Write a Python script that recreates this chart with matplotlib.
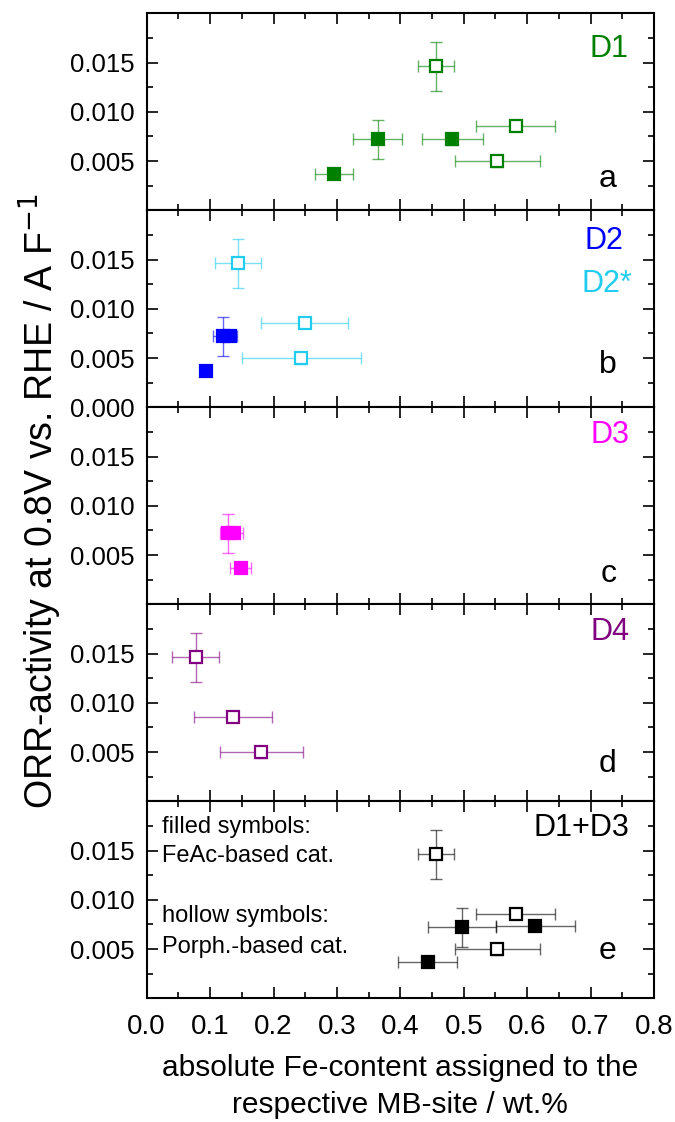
import matplotlib.pyplot as plt
import numpy as np
from matplotlib.ticker import MultipleLocator

plt.rcParams['font.family'] = ['Liberation Sans', 'DejaVu Sans']

# D1 (FeAc filled / porphyrin hollow)
d1_fill_x = [0.296, 0.364, 0.482]
d1_fill_y = [0.0037, 0.0072, 0.0072]
d1_fill_xerr = [0.030, 0.039, 0.048]
d1_fill_yerr = [0.0003, 0.0020, 0.0006]
d1_holl_x = [0.456, 0.582, 0.553]
d1_holl_y = [0.0146, 0.0086, 0.0050]
d1_holl_xerr = [0.028, 0.062, 0.067]
d1_holl_yerr = [0.0025, 0.0003, 0.0006]

# D2 filled, D2* hollow
d2_fill_x = [0.094, 0.121, 0.132]
d2_fill_y = [0.0037, 0.0072, 0.0072]
d2_fill_xerr = [0.008, 0.017, 0.010]
d2_fill_yerr = [0.0003, 0.0020, 0.0003]
d2s_holl_x = [0.144, 0.249, 0.244]
d2s_holl_y = [0.0146, 0.0086, 0.0050]
d2s_holl_xerr = [0.037, 0.069, 0.094]
d2s_holl_yerr = [0.0025, 0.0003, 0.0006]

# D3 filled
d3_fill_x = [0.148, 0.128, 0.137]
d3_fill_y = [0.0037, 0.0072, 0.0072]
d3_fill_xerr = [0.017, 0.012, 0.015]
d3_fill_yerr = [0.0003, 0.0020, 0.0003]

# D4 hollow
d4_holl_x = [0.077, 0.136, 0.181]
d4_holl_y = [0.0146, 0.0086, 0.0050]
d4_holl_xerr = [0.037, 0.062, 0.065]
d4_holl_yerr = [0.0025, 0.0003, 0.0006]

# D1+D3 filled
d13_fill_x = [0.443, 0.497, 0.613]
d13_fill_y = [0.0037, 0.0072, 0.0073]
d13_fill_xerr = [0.046, 0.054, 0.062]
d13_fill_yerr = [0.0003, 0.0020, 0.0003]

green = '#008000'
blue = '#0000FF'
cyan = '#22CCEE'
magenta = '#FF00FF'
purple = '#800080'


def pts(ax, x, y, xerr, yerr, color, filled):
    ax.errorbar(x, y, xerr=xerr, yerr=yerr, fmt='none', ecolor=color,
                elinewidth=1.0, capsize=4.5, capthick=1.0, alpha=0.6, zorder=2)
    ax.plot(x, y, 's', ms=9, mec=color, mew=1.6,
            mfc=color if filled else 'white', zorder=3)


fig = plt.figure(figsize=(6.75, 11.22), dpi=100)
left, width = 0.2173, 0.7516
top, bottom = 0.98815, 0.11025
h = (top - bottom) / 5

axes = []
for i in range(5):
    ax = fig.add_axes([left, top - (i + 1) * h, width, h])
    ax.set_xlim(0, 0.8)
    ax.set_ylim(0, 0.02)
    ax.xaxis.set_major_locator(MultipleLocator(0.1))
    ax.xaxis.set_minor_locator(MultipleLocator(0.05))
    ax.yaxis.set_major_locator(MultipleLocator(0.005))
    ax.yaxis.set_minor_locator(MultipleLocator(0.0025))
    ax.tick_params(which='both', direction='in', top=True, right=True,
                   width=1.2, labelsize=18.5)
    ax.tick_params(which='major', length=8)
    ax.tick_params(which='minor', length=4.3)
    ax.tick_params(axis='y', pad=9)
    for s in ax.spines.values():
        s.set_linewidth(1.5)
    if i == 1:
        ax.set_yticks([0.0, 0.005, 0.010, 0.015])
        ax.set_yticklabels(['0.000', '0.005', '0.010', '0.015'])
    else:
        ax.set_yticks([0.005, 0.010, 0.015])
        ax.set_yticklabels(['0.005', '0.010', '0.015'])
    if i < 4:
        ax.tick_params(labelbottom=False)
    else:
        ax.set_xticks(np.arange(0, 0.81, 0.1))
        ax.set_xticklabels(['0.0', '0.1', '0.2', '0.3', '0.4', '0.5', '0.6', '0.7', '0.8'],
                           fontsize=20)
        ax.tick_params(axis='x', pad=11)
    axes.append(ax)

a, b, c, d, e = axes

pts(a, d1_fill_x, d1_fill_y, d1_fill_xerr, d1_fill_yerr, green, True)
pts(a, d1_holl_x, d1_holl_y, d1_holl_xerr, d1_holl_yerr, green, False)
a.text(0.949, 0.82, 'D1', color=green, fontsize=22, ha='right', va='center', transform=a.transAxes)

pts(b, d2_fill_x, d2_fill_y, d2_fill_xerr, d2_fill_yerr, blue, True)
pts(b, d2s_holl_x, d2s_holl_y, d2s_holl_xerr, d2s_holl_yerr, cyan, False)
b.text(0.939, 0.845, 'D2', color=blue, fontsize=22, ha='right', va='center', transform=b.transAxes)
b.text(0.957, 0.625, 'D2*', color=cyan, fontsize=22, ha='right', va='center', transform=b.transAxes)

pts(c, d3_fill_x, d3_fill_y, d3_fill_xerr, d3_fill_yerr, magenta, True)
c.text(0.951, 0.86, 'D3', color=magenta, fontsize=22, ha='right', va='center', transform=c.transAxes)

pts(d, d4_holl_x, d4_holl_y, d4_holl_xerr, d4_holl_yerr, purple, False)
d.text(0.951, 0.86, 'D4', color=purple, fontsize=22, ha='right', va='center', transform=d.transAxes)

pts(e, d13_fill_x, d13_fill_y, d13_fill_xerr, d13_fill_yerr, 'black', True)
pts(e, d1_holl_x, d1_holl_y, d1_holl_xerr, d1_holl_yerr, 'black', False)
e.text(0.951, 0.865, 'D1+D3', color='black', fontsize=22, ha='right', va='center', transform=e.transAxes)

# note lines in the bottom panel
notes = ['filled symbols:', 'FeAc-based cat.', 'hollow symbols:', 'Porph.-based cat.']
note_y = [0.867, 0.721, 0.419, 0.261]
for txt, yy in zip(notes, note_y):
    e.text(0.03, yy, txt, fontsize=17, ha='left', va='center', transform=e.transAxes)

# panel letters (baseline positions)
letter_y = [0.116, 0.173, 0.112, 0.151, 0.198]
for ax, lab, yy in zip(axes, 'abcde', letter_y):
    ax.text(0.926, yy, lab, fontsize=23, ha='right', va='baseline', transform=ax.transAxes)

fig.text(0.059, 0.553, 'ORR-activity at 0.8V vs. RHE / A F$^{-1}$', rotation=90,
         fontsize=27, ha='center', va='center')
fig.text(0.593, 1 - 1068 / 1122, 'absolute Fe-content assigned to the',
         fontsize=21.5, ha='center', va='center')
fig.text(0.593, 1 - 1105 / 1122, 'respective MB-site / wt.%',
         fontsize=21.5, ha='center', va='center')

fig.savefig('out.png', dpi=100)
